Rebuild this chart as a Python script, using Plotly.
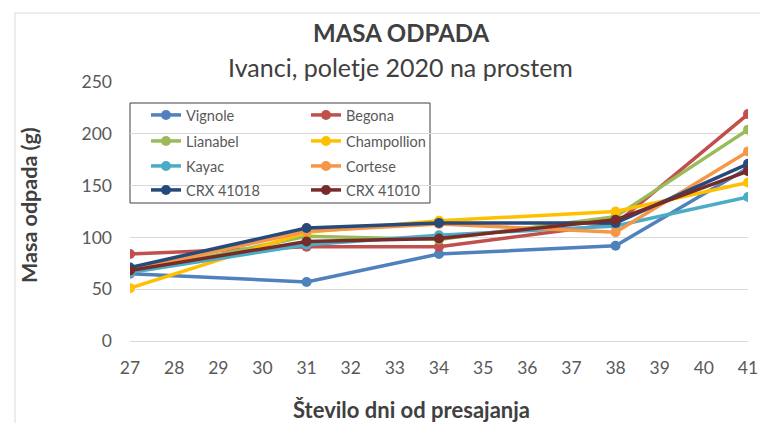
import plotly.graph_objects as go

days = [27, 31, 34, 38, 41]
series_names = ["Vignole", "Begona", "Lianabel", "Champollion", "Kayac", "Cortese", "CRX 41018", "CRX 41010"]
vignole = [65, 57, 84, 92, 167]
begona = [84, 91, 91, 113, 219]
lianabel = [66, 101, 98, 120, 204]
champollion = [51, 105, 116, 125, 153]
kayac = [66, 93, 102, 111, 139]
cortese = [68, 106, 113, 105, 183]
crx41018 = [71, 109, 114, 114, 171]
crx41010 = [68, 96, 99, 117, 164]
x_ticks = list(range(27, 42))
y_ticks = [0, 50, 100, 150, 200, 250]

values = [vignole, begona, lianabel, champollion, kayac, cortese, crx41018, crx41010]
colors = ["#4F81BD", "#C0504D", "#9BBB59", "#FFC000", "#4BACC6", "#F79646", "#264A7A", "#772C2A"]

W, H = 760, 423
L, R, T, B = 130, 12, 82, 82
pw, ph = W - L - R, H - T - B

def px(x):
    return (x - L) / pw

def py(y):
    return (H - B - y) / ph

FONT = "Lato"
fig = go.Figure()

# legend positions: (text start x, row center y)
legend_pos = [(186, 115), (346, 115), (186, 141), (346, 141),
              (186, 166), (346, 166), (186, 190), (346, 190)]

layout_legends = {}
for i, (name, vals, col) in enumerate(zip(series_names, values, colors)):
    lname = "legend" if i == 0 else f"legend{i+1}"
    fig.add_trace(go.Scatter(
        x=days, y=vals, name=name, mode="lines+markers",
        line=dict(color=col, width=3.5),
        marker=dict(color=col, size=10),
        legend=lname,
    ))
    tx, ty = legend_pos[i]
    layout_legends[lname] = dict(
        x=px(tx - 40), y=py(ty), xanchor="left", yanchor="middle",
        bgcolor="rgba(0,0,0,0)", borderwidth=0,
        font=dict(family=FONT, size=14.5, color="#595959"),
        itemwidth=30,
    )

fig.update_layout(
    width=W, height=H,
    margin=dict(l=L, r=R, t=T, b=B, autoexpand=False),
    paper_bgcolor="white", plot_bgcolor="white",
    showlegend=True,
    **layout_legends,
)

fig.update_xaxes(
    range=[27, 41], tickvals=x_ticks, ticktext=[str(v) for v in x_ticks],
    showgrid=False, zeroline=False, showline=False, ticks="",
    tickfont=dict(family=FONT, size=17.5, color="#595959"), ticklabelstandoff=14,
)
fig.update_yaxes(
    range=[0, 250], tickvals=y_ticks, showgrid=True, gridcolor="#D9D9D9", gridwidth=1,
    zeroline=True, zerolinecolor="#D9D9D9", zerolinewidth=1, showline=False, ticks="",
    tickfont=dict(family=FONT, size=17.5, color="#595959"), ticklabelstandoff=17,
)

shapes = [
    # chart border
    dict(type="rect", xref="paper", yref="paper", x0=px(15), x1=px(820), y0=py(480), y1=py(13),
         line=dict(color="#D9D9D9", width=1), fillcolor="rgba(0,0,0,0)", layer="below"),
    # legend box
    dict(type="rect", xref="paper", yref="paper", x0=px(130), x1=px(430), y0=py(203), y1=py(103),
         line=dict(color="#404040", width=1), fillcolor="white", layer="below"),
]
fig.update_layout(shapes=shapes)

annotations = [
    dict(text="<b>MASA ODPADA</b>", x=px(401), y=py(33), xref="paper", yref="paper",
         showarrow=False, xanchor="center", yanchor="middle",
         font=dict(family=FONT, size=24, color="#404040")),
    dict(text="Ivanci, poletje 2020 na prostem", x=px(400), y=py(67), xref="paper", yref="paper",
         showarrow=False, xanchor="center", yanchor="middle",
         font=dict(family=FONT, size=25, color="#404040")),
    dict(text="<b>Masa odpada (g)</b>", x=px(29), y=py(205), xref="paper", yref="paper",
         showarrow=False, xanchor="center", yanchor="middle", textangle=-90,
         font=dict(family=FONT, size=21.5, color="#404040")),
    dict(text="<b>Število dni od presajanja</b>", x=px(411), y=py(409), xref="paper", yref="paper",
         showarrow=False, xanchor="center", yanchor="middle",
         font=dict(family=FONT, size=22, color="#404040")),
]
fig.update_layout(annotations=annotations)

fig.write_html("out.html", config={"displayModeBar": False},
               post_script="document.body.style.margin='0px';document.body.style.overflow='hidden';")
